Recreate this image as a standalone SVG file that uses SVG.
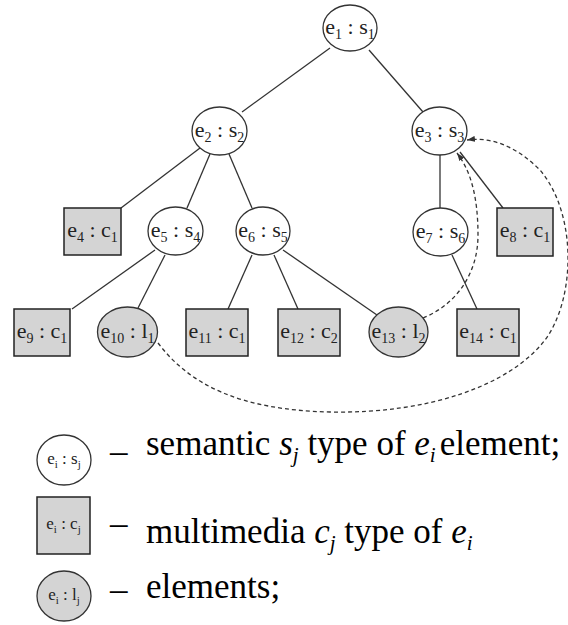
<svg xmlns="http://www.w3.org/2000/svg" width="568" height="625" viewBox="0 0 568 625">
<style>
.ell{fill:#fff;stroke:#333;stroke-width:1.3}
.gel{fill:#d4d4d4;stroke:#333;stroke-width:1.3}
.box{fill:#d4d4d4;stroke:#222;stroke-width:1.5}
.edge{stroke:#333;stroke-width:1.3;fill:none}
.dash{stroke:#333;stroke-width:1.3;fill:none;stroke-dasharray:4 3}
.lbl{font-family:'Liberation Serif','DejaVu Serif',serif;font-size:22px;fill:#222;text-anchor:middle}
.sb{font-size:14px}
.leg{font-family:'Liberation Serif','DejaVu Serif',serif;font-size:35px;fill:#000}
.lsb{font-size:21px}
.sml{font-family:'Liberation Serif','DejaVu Serif',serif;font-size:17px;fill:#222;text-anchor:middle}
.ssb{font-size:11px}
</style>
<defs>
<marker id="arr" viewBox="0 0 8 6" refX="8" refY="3" markerWidth="8" markerHeight="6" markerUnits="userSpaceOnUse" orient="auto">
<path d="M0,0 L8,3 L0,6 z" fill="#333"/>
</marker>
</defs>
<g id="connectors">
<line class="edge" x1="330" y1="48" x2="242" y2="112"/>
<line class="edge" x1="369" y1="50" x2="423" y2="112"/>
<line class="edge" x1="200" y1="148" x2="121" y2="208"/>
<line class="edge" x1="210" y1="154" x2="187" y2="208"/>
<line class="edge" x1="229" y1="154" x2="252" y2="208"/>
<line class="edge" x1="440" y1="155" x2="440" y2="208"/>
<line class="edge" x1="460" y1="152" x2="503" y2="208"/>
<line class="edge" x1="155" y1="250" x2="72" y2="309"/>
<line class="edge" x1="165" y1="255" x2="138" y2="308"/>
<line class="edge" x1="252" y1="255" x2="228" y2="309"/>
<line class="edge" x1="274" y1="255" x2="298" y2="309"/>
<line class="edge" x1="283" y1="250" x2="377" y2="315"/>
<line class="edge" x1="452" y1="255" x2="477" y2="309"/>
<path class="dash" d="M423,318 C455,305 478,275 478,235 C478,195 470,170 457,153" marker-end="url(#arr)"/>
<path class="dash" d="M158,343 C190,385 240,410 330,412 C430,414 510,385 545,340 C575,300 578,215 540,170 C520,150 495,136 467,140" marker-end="url(#arr)"/>
</g>
<g id="e1"><ellipse class="ell" cx="350" cy="28" rx="27" ry="23"/><text class="lbl" x="350" y="34">e<tspan class="sb" dy="5">1</tspan><tspan dy="-5"> : s</tspan><tspan class="sb" dy="5">1</tspan></text></g>
<g id="e2"><ellipse class="ell" cx="219.5" cy="131" rx="27.5" ry="24"/><text class="lbl" x="219.5" y="137">e<tspan class="sb" dy="5">2</tspan><tspan dy="-5"> : s</tspan><tspan class="sb" dy="5">2</tspan></text></g>
<g id="e3"><ellipse class="ell" cx="439.5" cy="131" rx="27.5" ry="24"/><text class="lbl" x="439.5" y="137">e<tspan class="sb" dy="5">3</tspan><tspan dy="-5"> : s</tspan><tspan class="sb" dy="5">3</tspan></text></g>
<g id="e4"><rect class="box" x="64" y="208" width="57" height="47"/><text class="lbl" x="92.5" y="237">e<tspan class="sb" dy="5">4</tspan><tspan dy="-5"> : c</tspan><tspan class="sb" dy="5">1</tspan></text></g>
<g id="e5"><ellipse class="ell" cx="175.5" cy="231" rx="27.5" ry="24"/><text class="lbl" x="175.5" y="237">e<tspan class="sb" dy="5">5</tspan><tspan dy="-5"> : s</tspan><tspan class="sb" dy="5">4</tspan></text></g>
<g id="e6"><ellipse class="ell" cx="263" cy="231" rx="27" ry="24"/><text class="lbl" x="263" y="237">e<tspan class="sb" dy="5">6</tspan><tspan dy="-5"> : s</tspan><tspan class="sb" dy="5">5</tspan></text></g>
<g id="e7"><ellipse class="ell" cx="440.5" cy="232" rx="27.5" ry="24"/><text class="lbl" x="440.5" y="238">e<tspan class="sb" dy="5">7</tspan><tspan dy="-5"> : s</tspan><tspan class="sb" dy="5">6</tspan></text></g>
<g id="e8"><rect class="box" x="497" y="208" width="56" height="48"/><text class="lbl" x="525" y="237">e<tspan class="sb" dy="5">8</tspan><tspan dy="-5"> : c</tspan><tspan class="sb" dy="5">1</tspan></text></g>
<g id="e9"><rect class="box" x="14" y="309" width="56" height="47"/><text class="lbl" x="42" y="338">e<tspan class="sb" dy="5">9</tspan><tspan dy="-5"> : c</tspan><tspan class="sb" dy="5">1</tspan></text></g>
<g id="e10"><ellipse class="gel" cx="127.5" cy="332" rx="30" ry="25"/><text class="lbl" x="127.5" y="338">e<tspan class="sb" dy="5">10</tspan><tspan dy="-5"> : l</tspan><tspan class="sb" dy="5">1</tspan></text></g>
<g id="e11"><rect class="box" x="186" y="309" width="62" height="47"/><text class="lbl" x="217" y="338">e<tspan class="sb" dy="5">11</tspan><tspan dy="-5"> : c</tspan><tspan class="sb" dy="5">1</tspan></text></g>
<g id="e12"><rect class="box" x="278" y="309" width="62" height="47"/><text class="lbl" x="309" y="338">e<tspan class="sb" dy="5">12</tspan><tspan dy="-5"> : c</tspan><tspan class="sb" dy="5">2</tspan></text></g>
<g id="e13"><ellipse class="gel" cx="398.5" cy="332" rx="29.5" ry="25"/><text class="lbl" x="398.5" y="338">e<tspan class="sb" dy="5">13</tspan><tspan dy="-5"> : l</tspan><tspan class="sb" dy="5">2</tspan></text></g>
<g id="e14"><rect class="box" x="457" y="309" width="62" height="47"/><text class="lbl" x="488" y="338">e<tspan class="sb" dy="5">14</tspan><tspan dy="-5"> : c</tspan><tspan class="sb" dy="5">1</tspan></text></g>
<g id="legend">
<ellipse class="ell" cx="64" cy="460" rx="27" ry="25"/>
<text class="sml" x="64" y="464">e<tspan class="ssb" dy="4">i</tspan><tspan dy="-4"> : s</tspan><tspan class="ssb" dy="4">j</tspan></text>
<text class="leg" x="110" y="463">–</text>
<text class="leg" x="146" y="455">semantic <tspan font-style="italic">s</tspan><tspan class="lsb" dy="7" font-style="italic">j</tspan><tspan dy="-7"> type of </tspan><tspan font-style="italic">e</tspan><tspan class="lsb" dy="7" font-style="italic">i</tspan><tspan dy="-7" dx="4">element;</tspan></text>
<rect class="box" x="37" y="497" width="53" height="57"/>
<text class="sml" x="63.5" y="529">e<tspan class="ssb" dy="4">i</tspan><tspan dy="-4"> : c</tspan><tspan class="ssb" dy="4">j</tspan></text>
<text class="leg" x="110" y="535">–</text>
<text class="leg" x="146" y="543">multimedia <tspan font-style="italic">c</tspan><tspan class="lsb" dy="7" font-style="italic">j</tspan><tspan dy="-7"> type of </tspan><tspan font-style="italic">e</tspan><tspan class="lsb" dy="7" font-style="italic">i</tspan></text>
<ellipse class="gel" cx="64" cy="596" rx="27" ry="25"/>
<text class="sml" x="64" y="600">e<tspan class="ssb" dy="4">i</tspan><tspan dy="-4"> : l</tspan><tspan class="ssb" dy="4">j</tspan></text>
<text class="leg" x="110" y="601">–</text>
<text class="leg" x="146" y="598">elements;</text>
</g>
</svg>
